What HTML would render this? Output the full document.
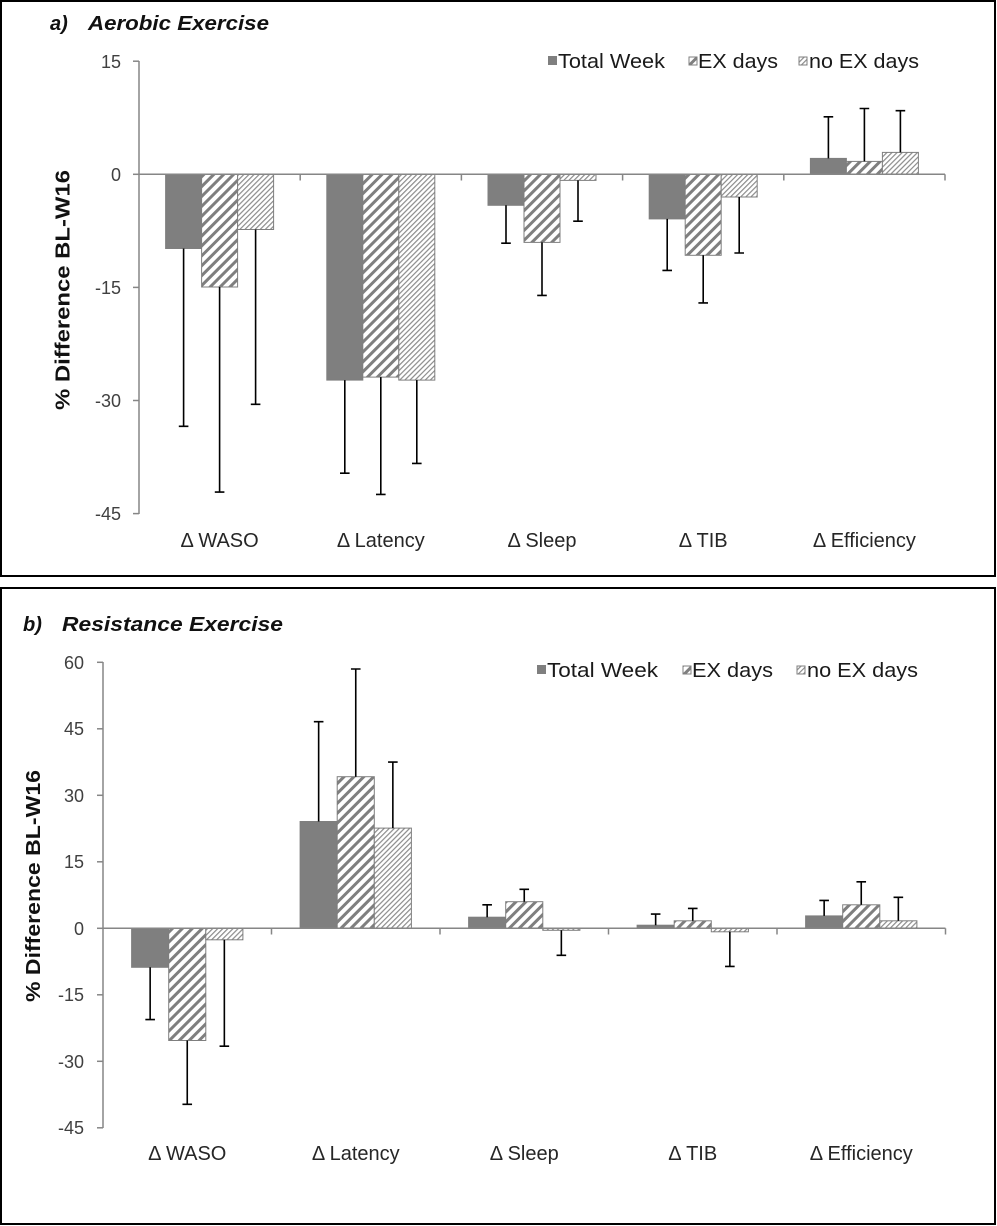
<!DOCTYPE html>
<html><head><meta charset="utf-8"><style>
html,body{margin:0;padding:0;background:#fff;}
svg{display:block;}
text{font-family:"Liberation Sans",Arial,sans-serif;}
</style></head><body>
<svg width="997" height="1226" viewBox="0 0 997 1226" xmlns="http://www.w3.org/2000/svg">
<defs>
<pattern id="wide" patternUnits="userSpaceOnUse" width="7" height="7" patternTransform="rotate(45)">
<rect width="7" height="7" fill="#fff"/><rect x="0" y="0" width="3" height="7" fill="#7f7f7f"/>
</pattern>
<pattern id="thin" patternUnits="userSpaceOnUse" width="3.6" height="3.6" patternTransform="rotate(45)">
<rect width="3.6" height="3.6" fill="#fff"/><rect x="0" y="0" width="1.2" height="3.6" fill="#8c8c8c"/>
</pattern>
</defs>

<rect x="1" y="1" width="994" height="575" fill="none" stroke="#000" stroke-width="2"/>
<rect x="1" y="588" width="994" height="636" fill="none" stroke="#000" stroke-width="2"/>

<!-- ================= PANEL A ================= -->
<text x="50" y="30" font-size="20" font-weight="bold" font-style="italic" fill="#111">a)</text>
<text x="88" y="30" font-size="20" font-weight="bold" font-style="italic" fill="#111" textLength="181" lengthAdjust="spacingAndGlyphs">Aerobic Exercise</text>

<rect x="548" y="56" width="9" height="9" fill="#7f7f7f"/>
<text x="558" y="68" font-size="20" fill="#1a1a1a" textLength="107" lengthAdjust="spacingAndGlyphs">Total Week</text>
<rect x="689" y="57" width="8" height="8" fill="url(#wide)" stroke="#7f7f7f" stroke-width="1"/>
<text x="698" y="68" font-size="20" fill="#1a1a1a" textLength="80" lengthAdjust="spacingAndGlyphs">EX days</text>
<rect x="799" y="57" width="8" height="8" fill="url(#thin)" stroke="#7f7f7f" stroke-width="1"/>
<text x="809" y="68" font-size="20" fill="#1a1a1a" textLength="110" lengthAdjust="spacingAndGlyphs">no EX days</text>

<g stroke="#868686" stroke-width="1.5">
<line x1="139" y1="61" x2="139" y2="514"/>
<line x1="133" y1="61.2" x2="139" y2="61.2"/>
<line x1="133" y1="174.3" x2="139" y2="174.3"/>
<line x1="133" y1="287.4" x2="139" y2="287.4"/>
<line x1="133" y1="400.5" x2="139" y2="400.5"/>
<line x1="133" y1="513.6" x2="139" y2="513.6"/>
</g>
<g font-size="18" fill="#404040" text-anchor="end">
<text x="121" y="68">15</text>
<text x="121" y="181">0</text>
<text x="121" y="294">-15</text>
<text x="121" y="407">-30</text>
<text x="121" y="520">-45</text>
</g>
<text transform="translate(69.5,290) rotate(-90)" text-anchor="middle" font-size="20" font-weight="bold" fill="#111" textLength="240" lengthAdjust="spacingAndGlyphs">% Difference BL-W16</text>

<g stroke="#7f7f7f" stroke-width="1">
<rect x="165.6" y="174.3" width="36" height="74.2" fill="#7f7f7f"/>
<rect x="201.6" y="174.3" width="36" height="112.7" fill="url(#wide)"/>
<rect x="237.6" y="174.3" width="36" height="55.2" fill="url(#thin)"/>
<rect x="326.8" y="174.3" width="36" height="205.8" fill="#7f7f7f"/>
<rect x="362.8" y="174.3" width="36" height="202.8" fill="url(#wide)"/>
<rect x="398.8" y="174.3" width="36" height="205.8" fill="url(#thin)"/>
<rect x="488" y="174.3" width="36" height="31" fill="#7f7f7f"/>
<rect x="524" y="174.3" width="36" height="68.1" fill="url(#wide)"/>
<rect x="560" y="174.3" width="36" height="6.1" fill="url(#thin)"/>
<rect x="649.2" y="174.3" width="36" height="44.6" fill="#7f7f7f"/>
<rect x="685.2" y="174.3" width="36" height="81" fill="url(#wide)"/>
<rect x="721.2" y="174.3" width="36" height="22.7" fill="url(#thin)"/>
<rect x="810.4" y="158.4" width="36" height="15.9" fill="#7f7f7f"/>
<rect x="846.4" y="161.4" width="36" height="12.9" fill="url(#wide)"/>
<rect x="882.4" y="152.4" width="36" height="21.9" fill="url(#thin)"/>
</g>

<g stroke="#868686" stroke-width="1.5">
<line x1="139" y1="174.3" x2="945" y2="174.3"/>
<line x1="300.2" y1="174.3" x2="300.2" y2="180.5"/>
<line x1="461.4" y1="174.3" x2="461.4" y2="180.5"/>
<line x1="622.6" y1="174.3" x2="622.6" y2="180.5"/>
<line x1="783.8" y1="174.3" x2="783.8" y2="180.5"/>
<line x1="945" y1="174.3" x2="945" y2="180.5"/>
</g>

<g stroke="#000" stroke-width="1.6">
<path d="M183.6 248.5V426.3M178.8 426.3H188.4"/>
<path d="M219.6 287V492.1M214.8 492.1H224.4"/>
<path d="M255.6 229.5V404.3M250.8 404.3H260.4"/>
<path d="M344.8 380.1V473.2M340 473.2H349.6"/>
<path d="M380.8 377.1V494.4M376 494.4H385.6"/>
<path d="M416.8 380.1V463.4M412 463.4H421.6"/>
<path d="M506 205.3V243.2M501.2 243.2H510.8"/>
<path d="M542 242.4V295.4M537.2 295.4H546.8"/>
<path d="M578 180.4V221.2M573.2 221.2H582.8"/>
<path d="M667.2 218.9V270.4M662.4 270.4H672"/>
<path d="M703.2 255.3V302.9M698.4 302.9H708"/>
<path d="M739.2 197V253M734.4 253H744"/>
<path d="M828.4 158.4V116.8M823.6 116.8H833.2"/>
<path d="M864.4 161.4V108.5M859.6 108.5H869.2"/>
<path d="M900.4 152.4V110.7M895.6 110.7H905.2"/>
</g>

<g font-size="20" fill="#262626" text-anchor="middle">
<text x="219.6" y="547">Δ WASO</text>
<text x="380.8" y="547">Δ Latency</text>
<text x="542" y="547">Δ Sleep</text>
<text x="703.2" y="547">Δ TIB</text>
<text x="864.4" y="547">Δ Efficiency</text>
</g>

<!-- ================= PANEL B ================= -->
<text x="23" y="631" font-size="20" font-weight="bold" font-style="italic" fill="#111">b)</text>
<text x="62" y="631" font-size="20" font-weight="bold" font-style="italic" fill="#111" textLength="221" lengthAdjust="spacingAndGlyphs">Resistance Exercise</text>

<rect x="537" y="665" width="9" height="9" fill="#7f7f7f"/>
<text x="547" y="677" font-size="20" fill="#1a1a1a" textLength="111" lengthAdjust="spacingAndGlyphs">Total Week</text>
<rect x="683" y="666" width="8" height="8" fill="url(#wide)" stroke="#7f7f7f" stroke-width="1"/>
<text x="692" y="677" font-size="20" fill="#1a1a1a" textLength="81" lengthAdjust="spacingAndGlyphs">EX days</text>
<rect x="797" y="666" width="8" height="8" fill="url(#thin)" stroke="#7f7f7f" stroke-width="1"/>
<text x="807" y="677" font-size="20" fill="#1a1a1a" textLength="111" lengthAdjust="spacingAndGlyphs">no EX days</text>

<g stroke="#868686" stroke-width="1.5">
<line x1="103" y1="662" x2="103" y2="1128"/>
<line x1="97" y1="662.3" x2="103" y2="662.3"/>
<line x1="97" y1="728.8" x2="103" y2="728.8"/>
<line x1="97" y1="795.3" x2="103" y2="795.3"/>
<line x1="97" y1="861.8" x2="103" y2="861.8"/>
<line x1="97" y1="928.3" x2="103" y2="928.3"/>
<line x1="97" y1="994.8" x2="103" y2="994.8"/>
<line x1="97" y1="1061.3" x2="103" y2="1061.3"/>
<line x1="97" y1="1127.8" x2="103" y2="1127.8"/>
</g>
<g font-size="18" fill="#404040" text-anchor="end">
<text x="84" y="669">60</text>
<text x="84" y="735">45</text>
<text x="84" y="802">30</text>
<text x="84" y="868">15</text>
<text x="84" y="935">0</text>
<text x="84" y="1001">-15</text>
<text x="84" y="1068">-30</text>
<text x="84" y="1134">-45</text>
</g>
<text transform="translate(40,886) rotate(-90)" text-anchor="middle" font-size="20" font-weight="bold" fill="#111" textLength="232" lengthAdjust="spacingAndGlyphs">% Difference BL-W16</text>

<g stroke="#7f7f7f" stroke-width="1">
<rect x="131.6" y="928.3" width="37.1" height="39" fill="#7f7f7f"/>
<rect x="168.7" y="928.3" width="37.1" height="112.2" fill="url(#wide)"/>
<rect x="205.8" y="928.3" width="37.1" height="11.5" fill="url(#thin)"/>
<rect x="300.1" y="821.5" width="37.1" height="106.8" fill="#7f7f7f"/>
<rect x="337.2" y="776.7" width="37.1" height="151.6" fill="url(#wide)"/>
<rect x="374.3" y="828.1" width="37.1" height="100.2" fill="url(#thin)"/>
<rect x="468.6" y="917.2" width="37.1" height="11.1" fill="#7f7f7f"/>
<rect x="505.7" y="901.7" width="37.1" height="26.6" fill="url(#wide)"/>
<rect x="542.8" y="928.3" width="37.1" height="2" fill="url(#thin)"/>
<rect x="637.1" y="925.2" width="37.1" height="3.1" fill="#7f7f7f"/>
<rect x="674.2" y="920.8" width="37.1" height="7.5" fill="url(#wide)"/>
<rect x="711.3" y="928.3" width="37.1" height="3.5" fill="url(#thin)"/>
<rect x="805.6" y="915.9" width="37.1" height="12.4" fill="#7f7f7f"/>
<rect x="842.7" y="904.8" width="37.1" height="23.5" fill="url(#wide)"/>
<rect x="879.8" y="920.8" width="37.1" height="7.5" fill="url(#thin)"/>
</g>

<g stroke="#868686" stroke-width="1.5">
<line x1="103" y1="928.3" x2="945.5" y2="928.3"/>
<line x1="271.5" y1="928.3" x2="271.5" y2="934.5"/>
<line x1="440" y1="928.3" x2="440" y2="934.5"/>
<line x1="608.5" y1="928.3" x2="608.5" y2="934.5"/>
<line x1="777" y1="928.3" x2="777" y2="934.5"/>
<line x1="945.5" y1="928.3" x2="945.5" y2="934.5"/>
</g>

<g stroke="#000" stroke-width="1.6">
<path d="M150.15 967.3V1019.6M145.35 1019.6H154.95"/>
<path d="M187.25 1040.5V1104.3M182.45 1104.3H192.05"/>
<path d="M224.35 939.8V1046.2M219.55 1046.2H229.15"/>
<path d="M318.65 821.5V721.7M313.85 721.7H323.45"/>
<path d="M355.75 776.7V669M350.95 669H360.55"/>
<path d="M392.85 828.1V762.1M388.05 762.1H397.65"/>
<path d="M487.15 917.2V904.8M482.35 904.8H491.95"/>
<path d="M524.25 901.7V889.3M519.45 889.3H529.05"/>
<path d="M561.35 930.3V955.3M556.55 955.3H566.15"/>
<path d="M655.65 925.2V914.1M650.85 914.1H660.45"/>
<path d="M692.75 920.8V908.4M687.95 908.4H697.55"/>
<path d="M729.85 931.8V966.4M725.05 966.4H734.65"/>
<path d="M824.15 915.9V900.4M819.35 900.4H828.95"/>
<path d="M861.25 904.8V881.8M856.45 881.8H866.05"/>
<path d="M898.35 920.8V897.3M893.55 897.3H903.15"/>
</g>

<g font-size="20" fill="#262626" text-anchor="middle">
<text x="187.25" y="1160">Δ WASO</text>
<text x="355.75" y="1160">Δ Latency</text>
<text x="524.25" y="1160">Δ Sleep</text>
<text x="692.75" y="1160">Δ TIB</text>
<text x="861.25" y="1160">Δ Efficiency</text>
</g>
</svg>
</body></html>
